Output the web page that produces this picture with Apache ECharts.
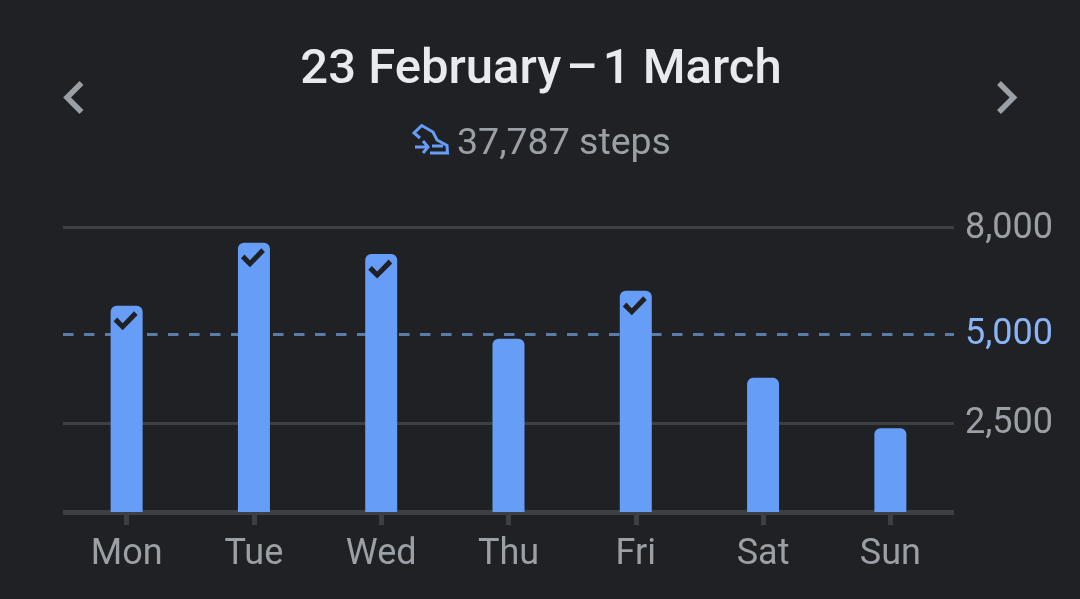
<!DOCTYPE html>
<html>
<head>
<meta charset="utf-8">
<style>html,body{margin:0;padding:0;background:#202124}#c{width:1080px;height:599px}</style>
<script src="https://cdn.jsdelivr.net/npm/echarts@6/dist/echarts.min.js"></script>
</head>
<body>
<div id="c"></div>
<script>
// Weekly step counts
const days = ['Mon', 'Tue', 'Wed', 'Thu', 'Fri', 'Sat', 'Sun'];
const steps = [5790, 7560, 7240, 4860, 6210, 3765, 2352];
const yTicks = [2500, 5000, 8000];
const goal = 5000;
const dateRange = '23 February\u200a\u2013\u200a1 March';
const totalSteps = '37,787 steps';

const checkPath = 'path://M0 9 L3 6 L7.5 10.5 L17 1 L20 4 L7.5 16 Z';
const grey = '#9aa0a6';
const lineGrey = '#3c4043';
const blue = '#669df6';

const chart = echarts.init(document.getElementById('c'));
const stroke = (color, w) => ({ stroke: color, lineWidth: w, fill: null, lineJoin: 'miter' });
const poly = (pts, color, w) => ({ type: 'polyline', shape: { points: pts }, style: stroke(color, w), silent: true });

chart.setOption({
  backgroundColor: '#202124',
  animation: false,
  grid: { left: 63, right: 126, top: 227, bottom: 87 },
  xAxis: {
    type: 'category',
    data: days,
    axisLine: { lineStyle: { color: lineGrey, width: 5, cap: 'butt' } },
    axisTick: { show: true, alignWithLabel: true, inside: false, length: 13, lineStyle: { color: lineGrey, width: 5 } },
    axisLabel: { color: grey, fontFamily: 'Roboto', fontSize: 36, margin: 25 }
  },
  yAxis: {
    type: 'value',
    position: 'right',
    min: 0,
    max: 8000,
    axisLine: { show: false },
    axisTick: { show: false, customValues: [2500, 8000] },
    splitLine: { show: true, lineStyle: { color: lineGrey, width: 3 } },
    axisLabel: {
      customValues: yTicks,
      margin: 11,
      padding: [3, 0, 0, 0],
      color: grey,
      fontFamily: 'Roboto',
      fontSize: 36,
      formatter: v => v === goal ? '{goal|' + v.toLocaleString('en-US') + '}' : v.toLocaleString('en-US'),
      rich: { goal: { color: '#8ab4f8', fontFamily: 'Roboto', fontSize: 36 } }
    }
  },
  series: [
    {
      type: 'bar',
      data: steps,
      barWidth: 32,
      z: 3,
      itemStyle: { color: blue, borderRadius: [6, 6, 0, 0] },
      markLine: {
        silent: true,
        z: 1,
        symbol: 'none',
        label: { show: false },
        lineStyle: { color: '#5b7ba8', width: 3, type: [10.5, 10.5] },
        data: [{ yAxis: goal }]
      }
    },
    {
      // Check mark on every day that reached the goal
      type: 'scatter',
      z: 4,
      data: steps.map((v, i) => v >= goal ? [days[i], v] : null).filter(Boolean),
      symbol: checkPath,
      symbolSize: [24, 19],
      symbolOffset: [-1, 15],
      itemStyle: { color: '#202124', opacity: 1 }
    }
  ],
  graphic: [
    { type: 'text', style: { text: dateRange, x: 541, y: 71, align: 'center', verticalAlign: 'middle', fill: '#e8eaed', font: '500 49px Roboto' } },
    { type: 'text', style: { text: totalSteps, x: 457, y: 145, align: 'left', verticalAlign: 'middle', fill: grey, font: '400 37.5px Roboto' } },
    poly([[81.5, 83], [67, 97.5], [81.5, 112]], grey, 5.5),
    poly([[999, 83], [1013.5, 97.5], [999, 112]], grey, 5.5),
    // Walking shoe icon beside the total
    poly([[420, 138], [414, 133], [421.7, 125.5], [433, 132], [437, 140], [447, 145.5], [447.5, 153], [430, 153]], blue, 3),
    poly([[415, 147], [428, 147]], blue, 3),
    poly([[423, 141], [428, 147], [423, 153]], blue, 3),
    poly([[432, 146], [443, 146]], blue, 3)
  ]
});
</script>
</body>
</html>
